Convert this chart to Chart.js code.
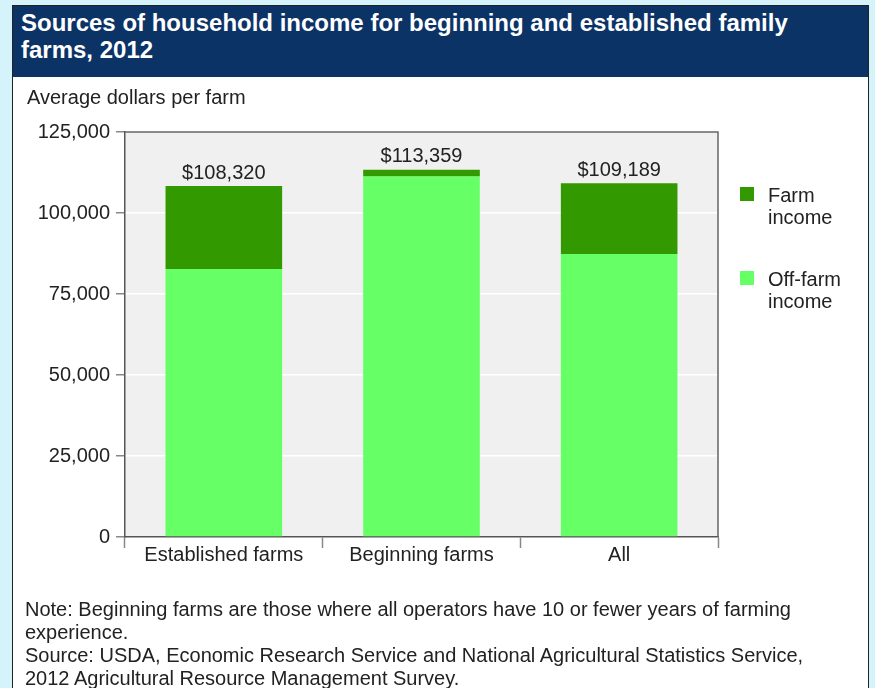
<!DOCTYPE html>
<html>
<head>
<meta charset="utf-8">
<script src="https://cdn.jsdelivr.net/npm/chart.js@4"></script>
<style>
body { margin: 0; background: #d4f3fa; width: 875px; height: 688px; overflow: hidden; font-family: "Liberation Sans", Arial, sans-serif; }
#panel { position: absolute; left: 12px; top: 5px; width: 855px; height: 700px; background: #fff; border: 1px solid #222; }
#title { position: absolute; left: 13px; top: 6px; width: 855px; height: 71px; background: #0c3366; color: #fff; font-weight: bold; font-size: 24px; line-height: 27px; padding: 3px 0 0 8px; box-sizing: border-box; }
#notes { position: absolute; left: 25px; top: 598px; color: #222; font-size: 20px; line-height: 23px; }
#chart_bar { position: absolute; left: 0; top: 0; }
</style>
</head>
<body>
<div id="panel"></div>
<div id="title">Sources of household income for beginning and established family<br>farms, 2012</div>
<canvas id="chart_bar" width="875" height="688"></canvas>
<div id="notes">Note: Beginning farms are those where all operators have 10 or fewer years of farming<br>experience.<br>Source: USDA, Economic Research Service and National Agricultural Statistics Service,<br>2012 Agricultural Resource Management Survey.</div>
<script>
let farmTypes = ['Established farms', 'Beginning farms', 'All'];
let offFarm = [82700, 111259, 87350];
let farmIncome = [25620, 2100, 21839];
let yTicks = [0, 25000, 50000, 75000, 100000, 125000];

let legendItems = [
    { lines: ['Farm', 'income'], color: '#339900' },
    { lines: ['Off-farm', 'income'], color: '#66ff66' }
];

let font = '"Liberation Sans", Arial, sans-serif';
let fontSize = 20;

// gray plot background, frame, axis title, totals and legend
let decor = {
    id: 'decor',
    beforeDraw(chart) {
        let a = chart.chartArea, c = chart.ctx;
        c.save();
        c.fillStyle = '#f0f0f0';
        c.fillRect(a.left, a.top, a.right - a.left, a.bottom - a.top);
        c.restore();
    },
    afterDraw(chart) {
        let a = chart.chartArea, c = chart.ctx;
        c.save();
        c.strokeStyle = '#666';
        c.lineWidth = 1.5;
        c.beginPath();
        c.moveTo(a.left, a.top);
        c.lineTo(a.right, a.top);
        c.lineTo(a.right, a.bottom);
        c.stroke();

        c.fillStyle = '#222';
        c.font = fontSize + 'px ' + font;
        c.textBaseline = 'middle';
        c.textAlign = 'left';
        c.fillText('Average dollars per farm', 27, 98);

        // totals on top of the stacks
        let top = chart.getDatasetMeta(1);
        c.textAlign = 'center';
        c.textBaseline = 'bottom';
        top.data.forEach((bar, i) => {
            let total = offFarm[i] + farmIncome[i];
            c.fillText('$' + total.toLocaleString('en-US'), bar.x, bar.y - 3);
        });

        // legend
        c.textAlign = 'left';
        c.textBaseline = 'middle';
        legendItems.forEach((item, i) => {
            let y = 187 + i * 84;
            c.fillStyle = item.color;
            c.fillRect(740, y, 14, 14);
            c.fillStyle = '#222';
            item.lines.forEach((t, j) => c.fillText(t, 768, y + 9 + j * 22));
        });
        c.restore();
    }
};

let ctx_bar = document.getElementById('chart_bar');

let chart_bar = new Chart(ctx_bar, {
    type: 'bar',
    data: {
        labels: farmTypes,
        datasets: [{
            label: 'Off-farm income',
            data: offFarm,
            backgroundColor: '#66ff66'
        }, {
            label: 'Farm income',
            data: farmIncome,
            backgroundColor: '#339900'
        }]
    },
    options: {
        responsive: false,
        maintainAspectRatio: false,
        animation: false,
        barPercentage: 0.59,
        categoryPercentage: 1,
        layout: { padding: { top: 132, right: 157, left: 0, bottom: 0 } },
        plugins: {
            legend: { display: false },
            tooltip: { enabled: false }
        },
        scales: {
            x: {
                stacked: true,
                afterFit(scale) { scale.height = 151; },
                grid: { offset: true, drawOnChartArea: false, tickLength: 11, tickColor: '#888', tickWidth: 1.5 },
                border: { color: '#555', width: 1.5 },
                ticks: { color: '#222', font: { family: font, size: fontSize }, padding: -5, maxRotation: 0 }
            },
            y: {
                stacked: true,
                min: 0,
                max: 125000,
                afterFit(scale) { scale.width = 125; },
                afterBuildTicks(scale) { scale.ticks = yTicks.map(v => ({ value: v })); },
                grid: { color: '#ffffff', lineWidth: 1.5, tickLength: 9, tickColor: '#888' },
                border: { color: '#555', width: 1.5 },
                ticks: {
                    color: '#222',
                    font: { family: font, size: fontSize },
                    padding: 6,
                    callback: v => v.toLocaleString('en-US')
                }
            }
        }
    },
    plugins: [decor]
});
</script>
</body>
</html>
